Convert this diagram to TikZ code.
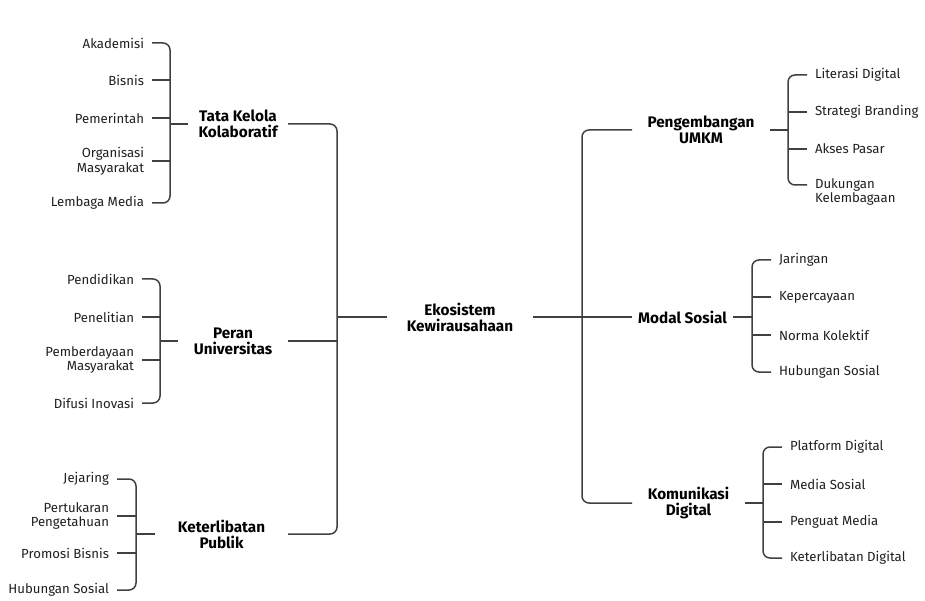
\documentclass[tikz,border=0pt]{standalone}
\usepackage{fontspec}
\setmainfont{Fira Sans}
\usetikzlibrary{calc}
\usetikzlibrary{positioning}

\begin{document}
\begin{tikzpicture}[%
  x=1pt, y=-1pt,
  branch/.style={draw=black!75, line width=1.5pt, rounded corners=7pt},
  leafl/.style={font=\fontsize{13.2}{14.8}\selectfont, text=black!88, align=right,
    inner sep=0pt, outer xsep=8pt, anchor=east},
  leafr/.style={font=\fontsize{13.2}{14.8}\selectfont, text=black!88, align=left,
    inner sep=0pt, outer xsep=8pt, anchor=west},
  hub/.style={font=\bfseries\fontsize{15.3}{16}\selectfont, align=center,
    inner sep=0pt, outer sep=0pt},
]

  \useasboundingbox (0,0) rectangle (925,601);

  % hubs
  \node[hub, minimum width=146] (eko) at (460,317) {Ekosistem\\Kewirausahaan};
  \node[hub, minimum width=100] (tata) at (238,124) {Tata Kelola\\Kolaboratif};
  \node[hub, minimum width=110] (peran) at (233,341) {Peran\\Universitas};
  \node[hub, minimum width=133] (publik) at (221.5,534) {Keterlibatan\\Publik};
  \node[hub, minimum width=138] (umkm) at (701,130) {Pengembangan\\UMKM};
  \node[hub, minimum width=101] (modal) at (682.5,317) {Modal Sosial};
  \node[hub, minimum width=113] (digital) at (688.5,503) {Komunikasi\\Digital};

  \coordinate (lcorner) at (337,534);
  \coordinate (rcorner) at (582,503);

  \draw[branch] (tata.east) -| (lcorner) -- (publik.east);
  \draw[branch] (peran.east) -- (peran.east -| lcorner);
  \draw[branch] (eko.west) -- (eko.west -| lcorner);
  \draw[branch] (umkm.west) -| (rcorner) -- (digital.west);
  \draw[branch] (eko.east) -- (modal.west);

  % tata kelola kolaboratif
  \node[leafl] (akademisi) at (152,43) {Akademisi};
  \node[leafl] (bisnis) at (152,80) {Bisnis};
  \node[leafl] (pemerintah) at (152,118) {Pemerintah};
  \node[leafl] (ormas) at (152,161) {Organisasi\\Masyarakat};
  \node[leafl] (lembaga) at (152,203) {Lembaga Media};
  \coordinate (g1) at (170,203);
  \draw[branch] (akademisi.east) -| (g1) -- (lembaga.east);
  \foreach \n in {bisnis,pemerintah,ormas}
    \draw[branch] (\n.east) -- (\n.east -| g1);
  \draw[branch] (tata.west) -- (tata.west -| g1);

  % peran universitas
  \node[leafl] (pendidikan) at (142,279) {Pendidikan};
  \node[leafl] (penelitian) at (142,317) {Penelitian};
  \node[leafl] (pemberdayaan) at (142,360) {Pemberdayaan\\Masyarakat};
  \node[leafl] (difusi) at (142,403) {Difusi Inovasi};
  \coordinate (g2) at (160,403);
  \draw[branch] (pendidikan.east) -| (g2) -- (difusi.east);
  \foreach \n in {penelitian,pemberdayaan}
    \draw[branch] (\n.east) -- (\n.east -| g2);
  \draw[branch] (peran.west) -- (peran.west -| g2);

  % keterlibatan publik
  \node[leafl] (jejaring) at (117,479) {Jejaring};
  \node[leafl] (pertukaran) at (117,516) {Pertukaran\\Pengetahuan};
  \node[leafl] (promosi) at (117,553) {Promosi Bisnis};
  \node[leafl] (hubsos) at (117,590) {Hubungan Sosial};
  \coordinate (g3) at (136,590);
  \draw[branch] (jejaring.east) -| (g3) -- (hubsos.east);
  \foreach \n in {pertukaran,promosi}
    \draw[branch] (\n.east) -- (\n.east -| g3);
  \draw[branch] (publik.west) -- (publik.west -| g3);

  % pengembangan umkm
  \node[leafr] (literasi) at (807,75) {Literasi Digital};
  \node[leafr] (branding) at (807,112) {Strategi Branding};
  \node[leafr] (akses) at (807,149) {Akses Pasar};
  \node[leafr] (dukungan) at (807,192) {Dukungan\\Kelembagaan};
  \coordinate (g4) at (788,185);
  \draw[branch] (literasi.west) -| (g4) -- (g4 -| dukungan.west);
  \foreach \n in {branding,akses}
    \draw[branch] (\n.west) -- (\n.west -| g4);
  \draw[branch] (umkm.east) -- (umkm.east -| g4);

  % modal sosial
  \node[leafr] (jaringan) at (771,260) {Jaringan};
  \node[leafr] (kepercayaan) at (771,297) {Kepercayaan};
  \node[leafr] (norma) at (771,335) {Norma Kolektif};
  \node[leafr] (hubungan) at (771,372) {Hubungan Sosial};
  \coordinate (g5) at (752,372);
  \draw[branch] (jaringan.west) -| (g5) -- (hubungan.west);
  \foreach \n in {kepercayaan,norma}
    \draw[branch] (\n.west) -- (\n.west -| g5);
  \draw[branch] (modal.east) -- (modal.east -| g5);

  % komunikasi digital
  \node[leafr] (platform) at (782,447) {Platform Digital};
  \node[leafr] (medsos) at (782,484) {Media Sosial};
  \node[leafr] (penguat) at (782,522) {Penguat Media};
  \node[leafr] (keterlibatan) at (782,558) {Keterlibatan Digital};
  \coordinate (g6) at (763,558);
  \draw[branch] (platform.west) -| (g6) -- (keterlibatan.west);
  \foreach \n in {medsos,penguat}
    \draw[branch] (\n.west) -- (\n.west -| g6);
  \draw[branch] (digital.east) -- (digital.east -| g6);

\end{tikzpicture}
\end{document}
